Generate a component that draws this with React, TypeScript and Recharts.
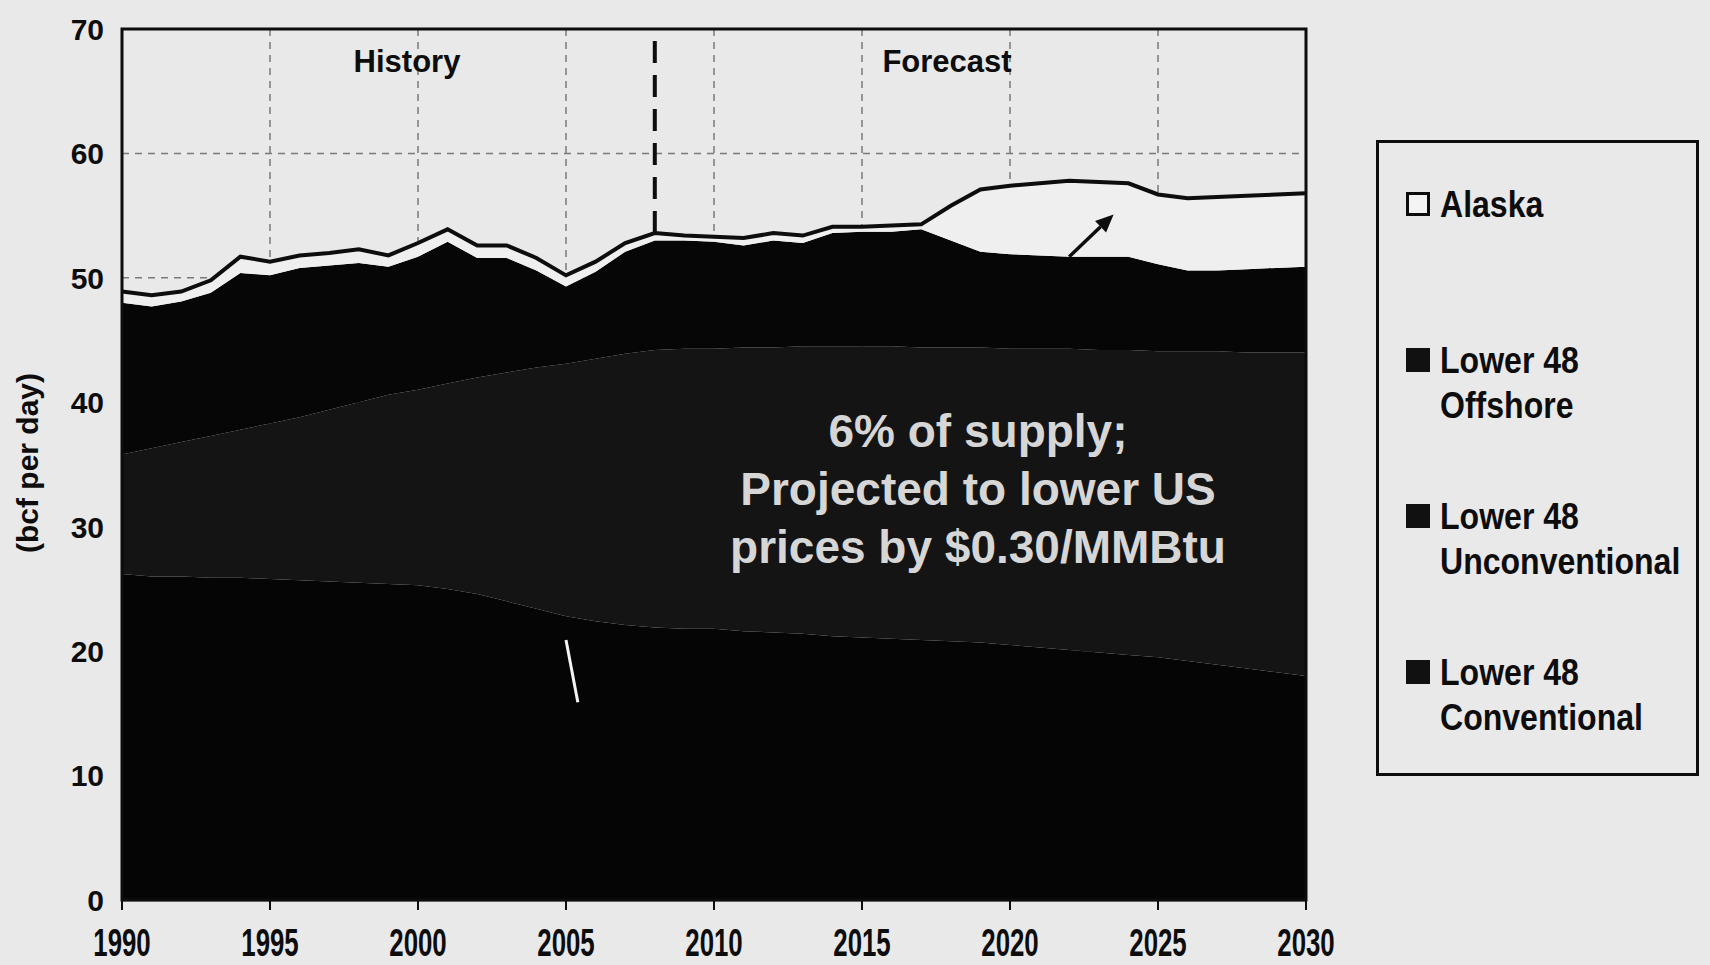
import {
  Area,
  AreaChart,
  CartesianGrid,
  ReferenceArea,
  ReferenceLine,
  XAxis,
  YAxis,
} from "recharts"

const years = [
  1990, 1991, 1992, 1993, 1994, 1995, 1996, 1997, 1998, 1999, 2000, 2001, 2002, 2003,
  2004, 2005, 2006, 2007, 2008, 2009, 2010, 2011, 2012, 2013, 2014, 2015, 2016, 2017,
  2018, 2019, 2020, 2021, 2022, 2023, 2024, 2025, 2026, 2027, 2028, 2029, 2030,
]

// bcf per day (layers are stacked bottom to top)
const conventional = [
  26.2, 26.0, 26.0, 25.9, 25.9, 25.8, 25.7, 25.6, 25.5, 25.4, 25.3, 25.0, 24.6, 24.0,
  23.4, 22.8, 22.4, 22.1, 21.9, 21.8, 21.8, 21.6, 21.5, 21.4, 21.2, 21.1, 21.0, 20.9,
  20.8, 20.7, 20.5, 20.3, 20.1, 19.9, 19.7, 19.5, 19.2, 18.9, 18.6, 18.3, 18.0,
]
const unconventional = [
  9.6, 10.3, 10.8, 11.4, 11.9, 12.5, 13.1, 13.8, 14.5, 15.2, 15.7, 16.5, 17.4, 18.4,
  19.4, 20.3, 21.1, 21.8, 22.3, 22.5, 22.5, 22.8, 22.9, 23.1, 23.3, 23.4, 23.5, 23.5,
  23.6, 23.7, 23.8, 24.0, 24.2, 24.3, 24.5, 24.6, 24.9, 25.2, 25.4, 25.7, 26.0,
]
const offshore = [
  12.2, 11.4, 11.3, 11.5, 12.6, 11.9, 12.0, 11.6, 11.2, 10.3, 10.7, 11.4, 9.6, 9.2,
  7.8, 6.2, 7.0, 8.2, 8.8, 8.7, 8.6, 8.2, 8.6, 8.3, 9.1, 9.2, 9.2, 9.5,
  8.6, 7.7, 7.6, 7.5, 7.4, 7.5, 7.5, 7.0, 6.5, 6.5, 6.7, 6.8, 6.9,
]
const alaska = [
  0.9, 0.9, 0.8, 1.0, 1.3, 1.1, 1.0, 1.0, 1.1, 0.9, 1.1, 1.0, 1.0, 1.0,
  1.0, 0.9, 0.8, 0.7, 0.6, 0.4, 0.4, 0.6, 0.6, 0.6, 0.5, 0.4, 0.5, 0.4,
  2.8, 5.0, 5.5, 5.8, 6.1, 6.0, 5.9, 5.6, 5.8, 5.9, 5.9, 5.9, 5.9,
]

const xTicks = [1990, 1995, 2000, 2005, 2010, 2015, 2020, 2025, 2030]
const yTicks = [0, 10, 20, 30, 40, 50, 60, 70]
const splitYear = 2008
const noteLines = ["6% of supply;", "Projected to lower US", "prices by $0.30/MMBtu"]
const legendItems = [
  { lines: ["Alaska"], open: true },
  { lines: ["Lower 48", "Offshore"], open: false },
  { lines: ["Lower 48", "Unconventional"], open: false },
  { lines: ["Lower 48", "Conventional"], open: false },
]

const data = years.map((year, i) => ({
  year,
  conventional: conventional[i],
  unconventional: unconventional[i],
  offshore: offshore[i],
  alaska: alaska[i],
}))

const splitIdx = years.indexOf(splitYear)
const splitTop =
  conventional[splitIdx] + unconventional[splitIdx] + offshore[splitIdx] + alaska[splitIdx]

const font = "'Liberation Sans', Arial, sans-serif"
const bg = "#e9e9e9"
const ink = "#0d0d0d"

const XTick = ({ x, y, payload }: any) => (
  <text
    transform={`translate(${x},${y}) scale(0.68,1)`}
    y={44}
    textAnchor="middle"
    fontFamily={font}
    fontWeight="bold"
    fontSize={38}
    fill={ink}
  >
    {payload.value}
  </text>
)

const YTick = ({ x, y, payload }: any) => (
  <text
    x={x}
    y={y}
    dy="0.36em"
    textAnchor="end"
    fontFamily={font}
    fontWeight="bold"
    fontSize={30}
    fill={ink}
  >
    {payload.value}
  </text>
)

const Arrow = (props: any) => {
  const { x1, y1, x2, y2 } = props
  const a = Math.atan2(y2 - y1, x2 - x1)
  const len = 18
  const w = 8
  const bx = x2 - len * Math.cos(a)
  const by = y2 - len * Math.sin(a)
  return (
    <g>
      <line x1={x1} y1={y1} x2={bx} y2={by} stroke={ink} strokeWidth={3.5} />
      <polygon
        points={`${x2},${y2} ${bx + w * Math.sin(a)},${by - w * Math.cos(a)} ${
          bx - w * Math.sin(a)
        },${by + w * Math.cos(a)}`}
        fill={ink}
      />
    </g>
  )
}

function ChartLegend() {
  return (
    <div
      style={{
        position: "absolute",
        left: 1376,
        top: 140,
        width: 317,
        height: 630,
        border: `3px solid ${ink}`,
        fontFamily: font,
      }}
    >
      {legendItems.map((item, i) => {
        const top = 49 + i * 156
        return (
          <div key={i}>
            <div
              style={{
                position: "absolute",
                left: 27,
                top,
                width: item.open ? 18 : 24,
                height: item.open ? 18 : 24,
                border: item.open ? `3px solid ${ink}` : "none",
                background: item.open ? "#f4f4f4" : "#111",
              }}
            />
            <div
              style={{
                position: "absolute",
                left: 61,
                top: top - 10,
                fontSize: 36,
                lineHeight: "45px",
                fontWeight: "bold",
                color: ink,
                whiteSpace: "nowrap",
                transform: "scaleX(0.89)",
                transformOrigin: "left top",
              }}
            >
              {item.lines.map((l) => (
                <div key={l}>{l}</div>
              ))}
            </div>
          </div>
        )
      })}
    </div>
  )
}

// white note printed over the dark areas
function Note() {
  return (
    <svg
      width={1710}
      height={965}
      style={{ position: "absolute", left: 0, top: 0, pointerEvents: "none" }}
    >
      {noteLines.map((l, i) => (
        <text
          key={l}
          x={978}
          y={447 + i * 58}
          textAnchor="middle"
          fontFamily={font}
          fontWeight="bold"
          fontSize={46}
          fill="#d6d6d6"
        >
          {l}
        </text>
      ))}
    </svg>
  )
}

export default function App() {
  return (
    <div
      style={{
        position: "absolute",
        left: 0,
        top: 0,
        width: 1710,
        height: 965,
        background: bg,
        overflow: "hidden",
      }}
    >
      <AreaChart
        width={1710}
        height={965}
        data={data}
        margin={{ top: 29, right: 404, left: 42, bottom: 5 }}
      >
        <CartesianGrid stroke="#7a7a7a" strokeWidth={1.5} strokeDasharray="7 6" />
        <XAxis
          dataKey="year"
          type="number"
          domain={[1990, 2030]}
          ticks={xTicks}
          height={60}
          axisLine={{ stroke: ink, strokeWidth: 2.5 }}
          tickLine={{ stroke: ink, strokeWidth: 2 }}
          tickSize={10}
          tick={<XTick />}
        />
        <YAxis
          domain={[0, 70]}
          ticks={yTicks}
          width={80}
          axisLine={false}
          tickLine={false}
          tickSize={0}
          tickMargin={18}
          tick={<YTick />}
        />
        <Area
          type="linear"
          dataKey="conventional"
          stackId="1"
          stroke="none"
          fill="#050505"
          fillOpacity={1}
          isAnimationActive={false}
        />
        <Area
          type="linear"
          dataKey="unconventional"
          stackId="1"
          stroke="none"
          fill="#141414"
          fillOpacity={1}
          isAnimationActive={false}
        />
        <Area
          type="linear"
          dataKey="offshore"
          stackId="1"
          stroke="none"
          fill="#060606"
          fillOpacity={1}
          isAnimationActive={false}
        />
        <Area
          type="linear"
          dataKey="alaska"
          stackId="1"
          stroke={ink}
          strokeWidth={4}
          fill="#efefef"
          fillOpacity={1}
          isAnimationActive={false}
        />
        <ReferenceLine
          segment={[
            { x: splitYear, y: splitTop },
            { x: splitYear, y: 70 },
          ]}
          stroke={ink}
          strokeWidth={4}
          strokeDasharray="22 12"
        />
        <ReferenceLine
          segment={[
            { x: 2022.0, y: 51.7 },
            { x: 2023.5, y: 55.1 },
          ]}
          shape={<Arrow />}
        />
        <ReferenceLine
          segment={[
            { x: 2005.0, y: 20.9 },
            { x: 2005.4, y: 15.9 },
          ]}
          stroke="#f4f4f4"
          strokeWidth={3}
        />
        <ReferenceArea
          x1={1990}
          x2={2030}
          y1={0}
          y2={70}
          fill="none"
          stroke={ink}
          strokeWidth={3}
        />
        <text
          x={407}
          y={72}
          textAnchor="middle"
          fontFamily={font}
          fontWeight="bold"
          fontSize={31}
          fill={ink}
        >
          History
        </text>
        <text
          x={947}
          y={72}
          textAnchor="middle"
          fontFamily={font}
          fontWeight="bold"
          fontSize={31}
          fill={ink}
        >
          Forecast
        </text>
        <text
          transform="translate(38,463) rotate(-90)"
          textAnchor="middle"
          fontFamily={font}
          fontWeight="bold"
          fontSize={30}
          fill={ink}
        >
          (bcf per day)
        </text>
      </AreaChart>
      <Note />
      <ChartLegend />
    </div>
  )
}
